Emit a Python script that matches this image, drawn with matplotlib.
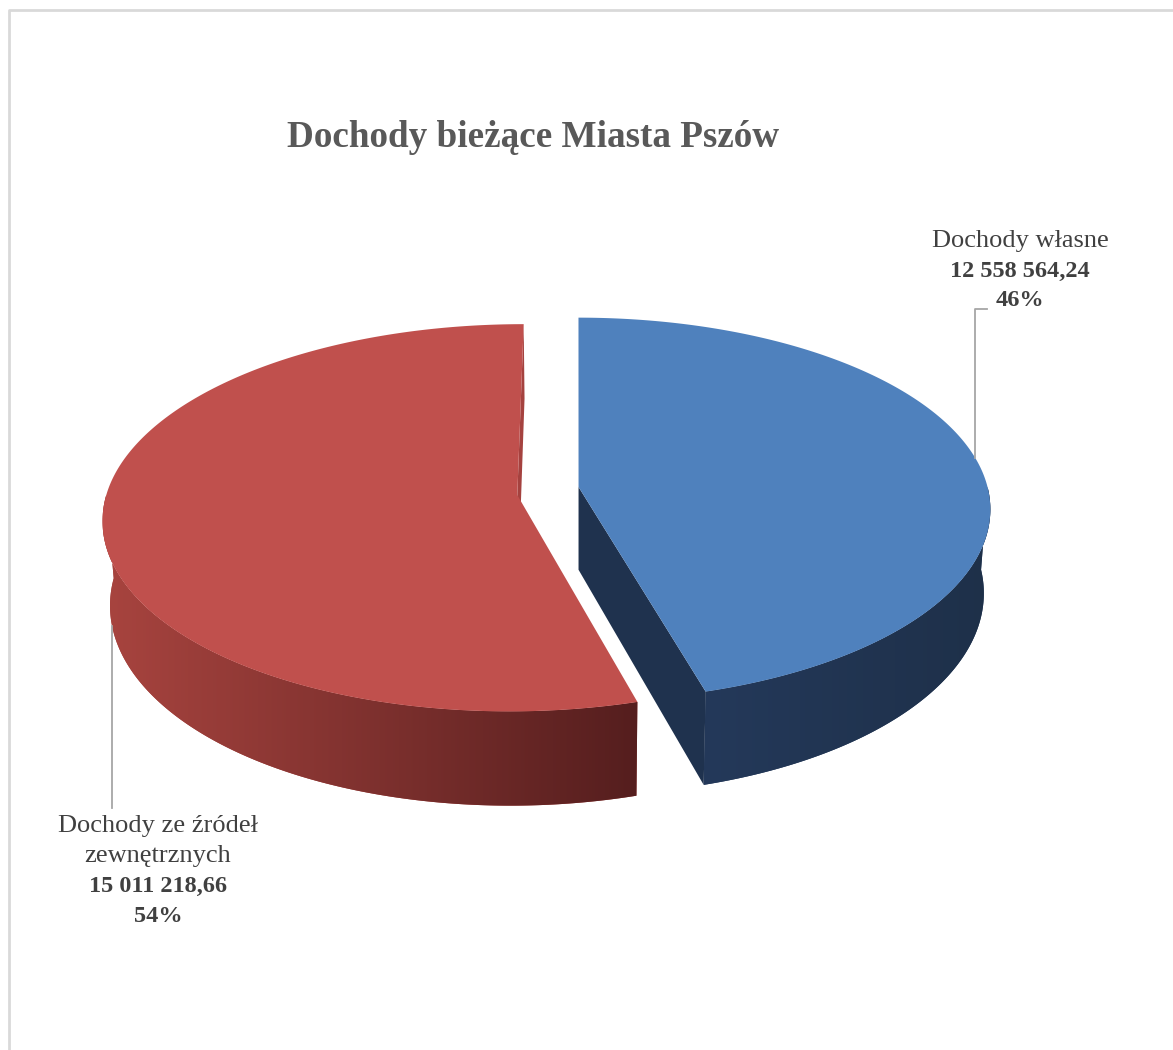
import numpy as np
import matplotlib
matplotlib.use("Agg")
import matplotlib.pyplot as plt
from matplotlib.patches import Polygon
from matplotlib.colors import LinearSegmentedColormap

title = "Dochody bieżące Miasta Pszów"
names = ["Dochody własne", "Dochody ze źródeł\nzewnętrznych"]
values = [12558564.24, 15011218.66]
value_labels = ["12 558 564,24", "15 011 218,66"]
top_colors = ["#4F81BD", "#C0504D"]
side_colors = [("#24395A", "#1E3049"), ("#A8443F", "#551E1E")]
cut_colors = ["#1F324E", "#A5423F"]

# geometry of the fake 3d pie (pixel coordinates, y down)
W, H_IMG = 1173, 1050
CX, CY = 548, 491
CAMX = 578
R, RY = 410, 190
DEPTH = 83
PERSP = 8.55
KZ = 0.00019
EXPLODE = 0.0775
EXPLODE_TILT = np.deg2rad(-8)

serif = ["Liberation Serif", "DejaVu Serif"]
txt_col = "#404040"
lead_col = "#A6A6A6"


def proj(cu, cv, theta, r=1.0, z=0.0):
    u = cu + r * np.sin(theta)
    v = cv - r * np.cos(theta)
    s = PERSP / (PERSP - v)
    return CAMX + (CX + R * u - CAMX) * s * (1 - KZ * z), CY + RY * v * s + z * s


def area(pts):
    pts = np.asarray(pts)
    x, y = pts[:, 0], pts[:, 1]
    return np.sum(x * np.roll(y, -1) - np.roll(x, -1) * y)


fig = plt.figure(figsize=(W / 100, H_IMG / 100), dpi=100)
ax = fig.add_axes([0, 0, 1, 1])
ax.set_xlim(0, W)
ax.set_ylim(H_IMG, 0)
ax.axis("off")

# chart border
ax.plot([9, 9, W + 5], [H_IMG + 5, 10, 10], color="#D9D9D9", lw=2, solid_capstyle="butt")

fracs = np.array(values) / sum(values)
starts = np.concatenate([[0], np.cumsum(fracs)[:-1]]) * 2 * np.pi
ends = np.cumsum(fracs) * 2 * np.pi

slices = []
for i in range(len(values)):
    t1, t2 = starts[i], ends[i]
    tm = (t1 + t2) / 2 + EXPLODE_TILT
    cu, cv = EXPLODE * np.sin(tm), -EXPLODE * np.cos(tm)
    slices.append((t1, t2, cu, cv))

# outer sides with gradient
for i, (t1, t2, cu, cv) in enumerate(slices):
    a, b = max(t1, np.pi / 2), min(t2, 3 * np.pi / 2)
    if a >= b:
        continue
    th = np.linspace(a, b, 200)
    topx, topy = proj(cu, cv, th)
    botx, boty = proj(cu, cv, th, z=DEPTH)
    pts = np.column_stack([np.concatenate([topx, botx[::-1]]),
                           np.concatenate([topy, boty[::-1]])])
    poly = Polygon(pts, closed=True, facecolor=side_colors[i][0], edgecolor="none", zorder=2)
    ax.add_patch(poly)
    cmap = LinearSegmentedColormap.from_list("g%d" % i, side_colors[i])
    x0, x1 = pts[:, 0].min(), pts[:, 0].max()
    y0, y1 = pts[:, 1].min(), pts[:, 1].max()
    im = ax.imshow(np.linspace(0, 1, 256)[None, :], cmap=cmap, aspect="auto",
                   extent=(x0, x1, y1, y0), zorder=2.1, interpolation="bilinear")
    im.set_clip_path(poly)

# cut faces (only those turned toward the viewer)
for i, (t1, t2, cu, cv) in enumerate(slices):
    for t, sign in ((t1, -1), (t2, 1)):
        ax_, ay_ = proj(cu, cv, t, r=0)
        rx_, ry_ = proj(cu, cv, t)
        bx_, by_ = proj(cu, cv, t, z=DEPTH)
        dx_, dy_ = proj(cu, cv, t, r=0, z=DEPTH)
        quad = [(ax_, ay_), (rx_, ry_), (bx_, by_), (dx_, dy_)]
        if sign * area(quad) > 100:
            ax.add_patch(Polygon(quad, closed=True, facecolor=cut_colors[i],
                                 edgecolor="none", zorder=3))

# top faces
for i, (t1, t2, cu, cv) in enumerate(slices):
    th = np.linspace(t1, t2, 300)
    x, y = proj(cu, cv, th)
    px, py = proj(cu, cv, 0, r=0)
    pts = np.column_stack([np.concatenate([[px], x]), np.concatenate([[py], y])])
    ax.add_patch(Polygon(pts, closed=True, facecolor=top_colors[i], edgecolor="none", zorder=4))

ax.text(533, 147, title, ha="center", va="baseline", fontsize=26.7, fontweight="bold",
        color="#595959", family=serif)

pct = [f"{round(f * 100):.0f}%" for f in fracs]

# label 1 with elbow leader to the top rim
t1, t2, cu, cv = slices[0]
th = np.linspace(0, np.pi / 2, 400)
rx, ry = proj(cu, cv, th)
lx = 975
ly = np.interp(lx, rx, ry)
ax.plot([lx, lx, 987], [ly, 309, 309], color=lead_col, lw=1.3, zorder=5)
lines0 = names[0].split("\n") + [value_labels[0], pct[0]]
for k, ln in enumerate(lines0):
    bold = k >= 1
    ax.text(1020, 247 + 29.5 * k, ln, ha="center", va="baseline",
            fontsize=17.5 if bold else 19, fontweight="bold" if bold else "normal",
            color=txt_col, family=serif)

# label 2 with leader from the bottom edge of the side
t1, t2, cu, cv = slices[1]
th = np.linspace(np.pi, 1.5 * np.pi, 400)
bx, by = proj(cu, cv, th, z=DEPTH)
j = np.argmin(bx)
lx = 112
ly = np.interp(lx, bx[:j + 1][::-1], by[:j + 1][::-1])
ax.plot([lx, lx], [ly, 808], color=lead_col, lw=1.3, zorder=5)
lines1 = names[1].split("\n") + [value_labels[1], pct[1]]
for k, ln in enumerate(lines1):
    bold = k >= 2
    ax.text(158, 832 + 30 * k, ln, ha="center", va="baseline",
            fontsize=17.5 if bold else 19, fontweight="bold" if bold else "normal",
            color=txt_col, family=serif)

fig.savefig("out.png", dpi=100, facecolor="white")
